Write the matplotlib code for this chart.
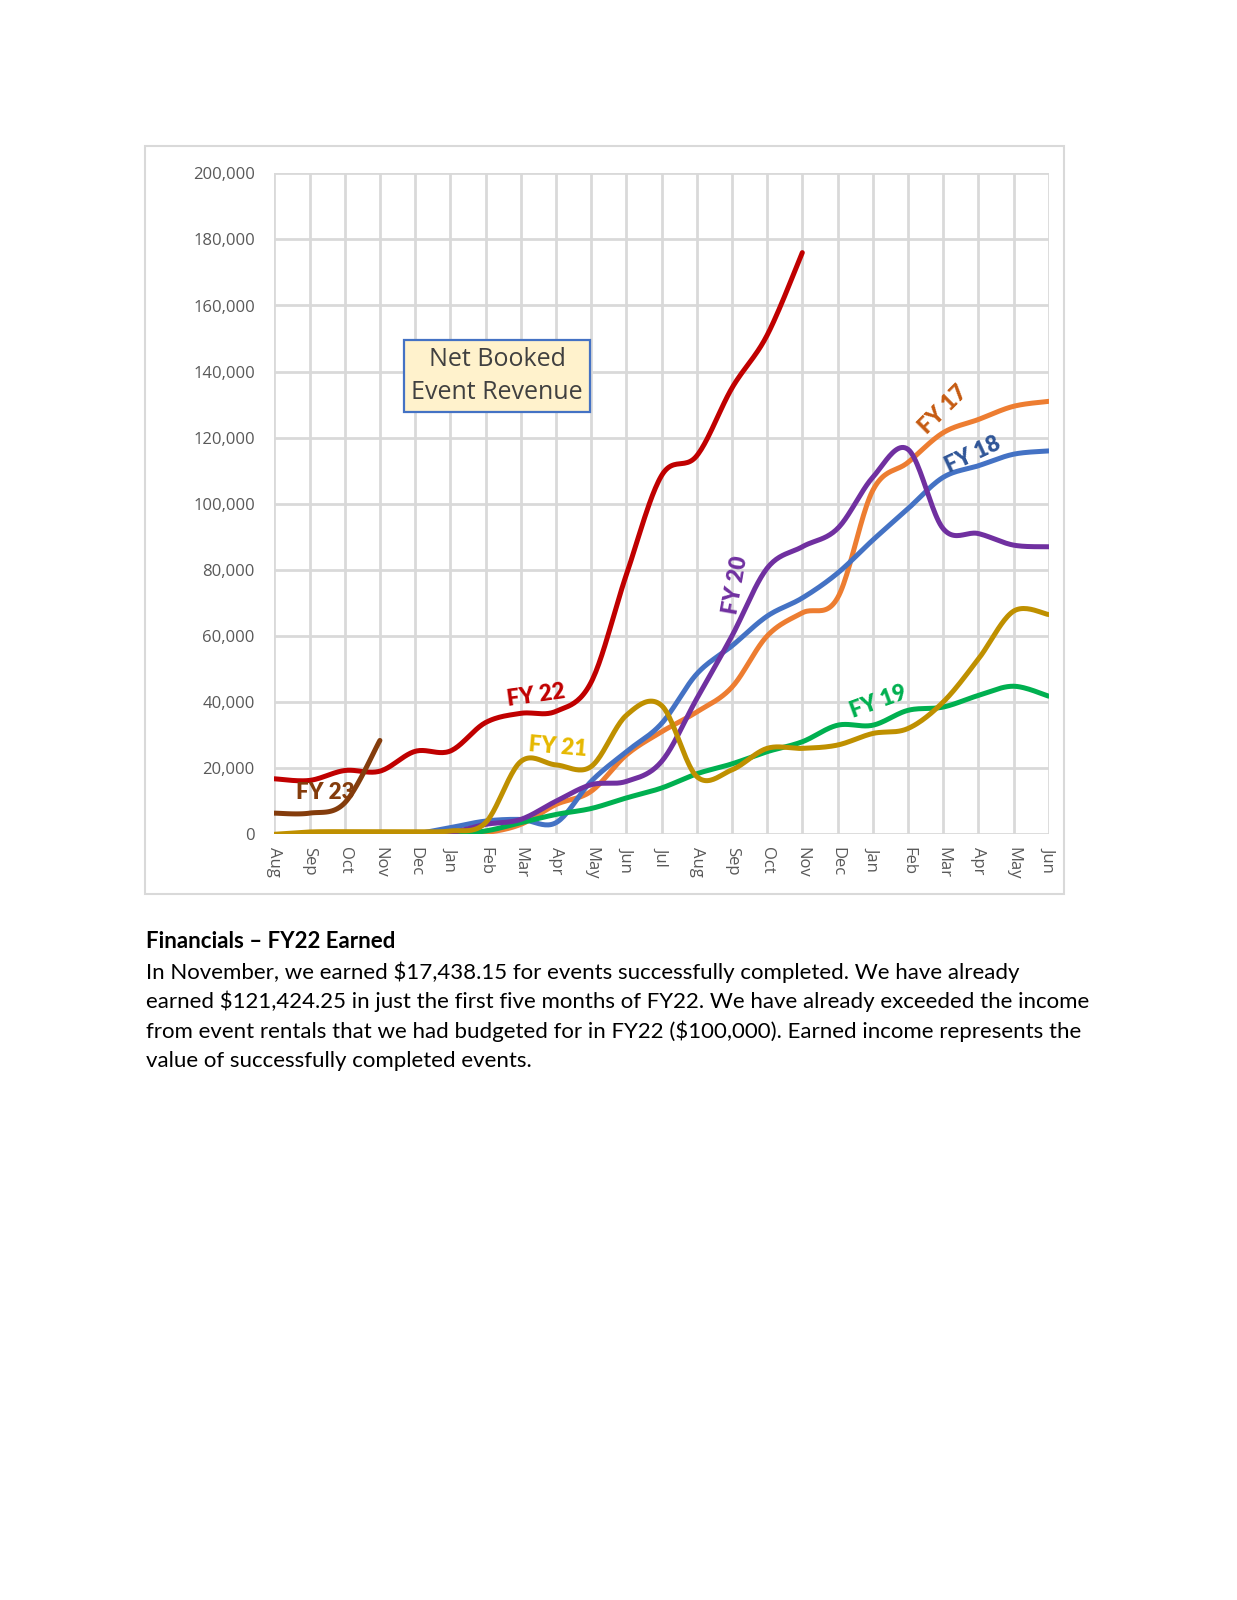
import numpy as np
import matplotlib
matplotlib.use("Agg")
import matplotlib.pyplot as plt
from matplotlib.patches import Rectangle
from matplotlib.ticker import FuncFormatter

# ---- data (thousands of $) ----
months = ["Aug", "Sep", "Oct", "Nov", "Dec", "Jan", "Feb", "Mar", "Apr", "May", "Jun",
          "Jul", "Aug", "Sep", "Oct", "Nov", "Dec", "Jan", "Feb", "Mar", "Apr", "May", "Jun"]

fy17_start = 5
fy17 = [0, 0.5, 3, 9, 13, 24, 31, 37, 44.5, 60, 67, 71.5, 104, 112.5, 121.5, 125.5, 129.5, 131]
fy18_start = 4
fy18 = [0, 2, 4, 4.5, 3.5, 16, 25, 33.5, 48.5, 57, 66, 71.5, 79, 89, 98.5, 108, 111.5, 115, 116]
fy19_start = 5
fy19 = [0, 1, 3.5, 6, 7.8, 11, 14, 18.3, 21.3, 25, 28, 33, 33, 37.5, 38.5, 42, 44.8, 41.8]
fy20_start = 3
fy20 = [0, 0, 0.5, 3, 4.5, 10, 15, 16, 22, 41, 60, 80.5, 87, 92.5, 108, 116.5, 92.5, 91, 87.5, 87]
fy21_start = 0
fy21 = [0, 0.7, 0.8, 0.8, 0.8, 1.0, 3.5, 22, 21, 20.5, 36, 39, 17.5, 19.5, 26, 26, 27, 30.5,
        32, 40, 53, 67.5, 66.5]
fy22_start = 0
fy22 = [16.8, 16.3, 19.3, 19.1, 25.1, 25.2, 33.8, 36.6, 37.2, 46, 78.5, 108.5, 114.5, 135, 151, 176]
fy23_start = 0
fy23 = [6.4, 6.4, 9.5, 28.4]

yticks = list(range(0, 200001, 20000))


def smooth(xs, ys, n=24):
    """Excel-style smoothed line (Catmull-Rom Bezier) through the data points."""
    p = np.column_stack([xs, ys]).astype(float)
    if len(p) < 3:
        return p[:, 0], p[:, 1]
    ext = np.vstack([p[0], p, p[-1]])
    out = []
    t = np.linspace(0, 1, n)[:, None]
    for i in range(1, len(ext) - 2):
        p0, p1, p2, p3 = ext[i - 1], ext[i], ext[i + 1], ext[i + 2]
        b1 = p1 + (p2 - p0) / 6.0
        b2 = p2 - (p3 - p1) / 6.0
        seg = ((1 - t) ** 3) * p1 + 3 * ((1 - t) ** 2) * t * b1 + 3 * (1 - t) * t ** 2 * b2 + t ** 3 * p2
        out.append(seg if i == 1 else seg[1:])
    out = np.vstack(out)
    return out[:, 0], out[:, 1]


series = [
    (fy17_start, fy17, "#ED7D31"),
    (fy18_start, fy18, "#4472C4"),
    (fy19_start, fy19, "#00B050"),
    (fy20_start, fy20, "#7030A0"),
    (fy21_start, fy21, "#BF9000"),
    (fy22_start, fy22, "#C00000"),
    (fy23_start, fy23, "#843C0C"),
]

W, H = 1237, 1600
fig = plt.figure(figsize=(W / 100, H / 100), dpi=100)
fig.patch.set_facecolor("white")

# chart area border
fig.patches.append(Rectangle((145 / W, 1 - 894 / H), (1064 - 145) / W, (894 - 146) / H,
                             transform=fig.transFigure, fill=False, edgecolor="#D9D9D9",
                             linewidth=1.5))

ax = fig.add_axes([274.3 / W, 1 - 834.3 / H, (1048.7 - 274.3) / W, (834.3 - 173.3) / H])
ax.set_facecolor("white")

for start, vals, col in series:
    xs = np.arange(start, start + len(vals))
    ys = np.array(vals) * 1000
    sx, sy = smooth(xs, ys)
    ax.plot(sx, sy, color=col, lw=3.6, solid_capstyle="round", zorder=3)

ax.set_xlim(0, len(months) - 1)
ax.set_ylim(0, 200000)
ax.set_xticks(range(len(months)))
ax.set_xticklabels(months, rotation=-90, fontsize=12, color="#595959", family="Open Sans")
ax.set_yticks(yticks)
ax.yaxis.set_major_formatter(FuncFormatter(lambda v, _: f"{int(v):,}"))
for lab in ax.get_yticklabels():
    lab.set_family("Open Sans")
ax.tick_params(axis="y", labelsize=12, labelcolor="#595959", length=0, pad=14)
ax.tick_params(axis="x", length=0, pad=9)
ax.grid(True, color="#D9D9D9", linewidth=2.0, zorder=0)
ax.set_axisbelow(True)
for s in ax.spines.values():
    s.set_visible(False)

# text box
ax.text(6.33, 138600, "Net Booked\nEvent Revenue", ha="center", va="center", fontsize=18,
        family="Open Sans", color="#404040", linespacing=1.4, zorder=5,
        bbox=dict(boxstyle="square,pad=0.28", facecolor="#FFF2CC", edgecolor="#4472C4", linewidth=1.6))

# series labels
lab_kw = dict(fontsize=16, fontweight="heavy", family="Lato", ha="center", va="center", zorder=6)
ax.text(7.43, 42000, "FY 22", color="#C00000", rotation=8, **lab_kw)
ax.text(8.05, 26500, "FY 21", color="#E6B800", rotation=-5, **lab_kw)
ax.text(1.45, 12500, "FY 23", color="#843C0C", rotation=0, **lab_kw)
ax.text(13.1, 75500, "FY 20", color="#7030A0", rotation=80, **lab_kw)
ax.text(17.15, 40000, "FY 19", color="#00B050", rotation=20, **lab_kw)
ax.text(19.0, 128500, "FY 17", color="#C55A11", rotation=45, **lab_kw)
ax.text(19.85, 115000, "FY 18", color="#2F5597", rotation=25, **lab_kw)

# document text
fig.text(146 / W, 1 - 941 / H, "Financials – FY22 Earned", fontsize=16, fontweight="bold",
         family="Lato", ha="left", va="center", color="black")
body = [
    "In November, we earned $17,438.15 for events successfully completed. We have already",
    "earned $121,424.25 in just the first five months of FY22. We have already exceeded the income",
    "from event rentals that we had budgeted for in FY22 ($100,000). Earned income represents the",
    "value of successfully completed events.",
]
for i, line in enumerate(body):
    fig.text(146 / W, 1 - (972 + 29.6 * i) / H, line, fontsize=16, family="Lato",
             ha="left", va="center", color="black")

fig.savefig("out.png", dpi=100, facecolor="white")
